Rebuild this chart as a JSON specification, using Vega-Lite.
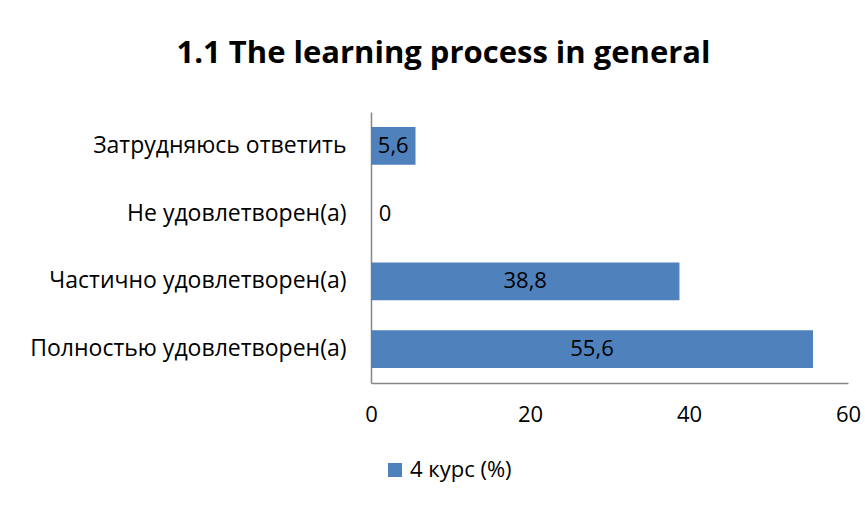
{
  "$schema": "https://vega.github.io/schema/vega-lite/v6.json",
  "width": 477,
  "height": 271,
  "autosize": {"type": "none"},
  "padding": {"left": 371, "top": 112, "right": 17, "bottom": 123},
  "background": "white",
  "config": {
    "view": {"stroke": null},
    "font": "Open Sans",
    "locale": {"number": {"decimal": ",", "thousands": " ", "grouping": [3], "currency": ["", ""]}}
  },
  "title": {
    "text": "1.1 The learning process in general",
    "font": "Open Sans",
    "fontSize": 31,
    "fontWeight": "bold",
    "color": "#000000",
    "anchor": "middle",
    "dx": -166,
    "offset": 42
  },
  "data": {
    "values": [
      {"category": "Затрудняюсь ответить", "value": 5.6},
      {"category": "Не удовлетворен(а)", "value": 0},
      {"category": "Частично удовлетворен(а)", "value": 38.8},
      {"category": "Полностью удовлетворен(а)", "value": 55.6}
    ]
  },
  "encoding": {
    "y": {
      "field": "category",
      "type": "nominal",
      "sort": null,
      "scale": {"paddingInner": 0.44, "paddingOuter": 0.22},
      "axis": {
        "title": null,
        "ticks": false,
        "domainColor": "#868686",
        "domainWidth": 1.5,
        "labelFontSize": 23,
        "labelColor": "#000000",
        "labelPadding": 25,
        "labelLimit": 400
      }
    }
  },
  "layer": [
    {
      "mark": {"type": "bar", "color": "#4F81BD"},
      "encoding": {
        "x": {
          "field": "value",
          "type": "quantitative",
          "scale": {"domain": [0, 60], "nice": false},
          "axis": {
            "title": null,
            "values": [0, 20, 40, 60],
            "grid": false,
            "ticks": false,
            "domainColor": "#868686",
            "domainWidth": 1.5,
            "labelFontSize": 22,
            "labelColor": "#000000",
            "labelPadding": 21,
            "labelFlush": false
          }
        },
        "color": {
          "datum": "4 курс (%)",
          "type": "nominal",
          "scale": {"range": ["#4F81BD"]},
          "legend": {
            "title": null,
            "orient": "none",
            "legendX": 13,
            "legendY": 347,
            "symbolType": "square",
            "symbolSize": 196,
            "symbolStrokeWidth": 0,
            "labelFontSize": 22,
            "labelColor": "#000000",
            "labelOffset": 4
          }
        }
      }
    },
    {
      "transform": [{"filter": "datum.value > 0"}],
      "mark": {"type": "text", "fontSize": 22, "color": "#000000", "align": "center", "baseline": "middle"},
      "encoding": {
        "x": {
          "field": "value",
          "type": "quantitative",
          "scale": {"domain": [0, 120], "nice": false},
          "axis": null
        },
        "text": {"field": "value", "type": "quantitative", "format": ".1~f"}
      }
    },
    {
      "transform": [{"filter": "datum.value == 0"}],
      "mark": {"type": "text", "fontSize": 22, "color": "#000000", "align": "center", "baseline": "middle", "dx": 14},
      "encoding": {
        "x": {
          "field": "value",
          "type": "quantitative",
          "scale": {"domain": [0, 60], "nice": false},
          "axis": null
        },
        "text": {"field": "value", "type": "quantitative", "format": ".1~f"}
      }
    }
  ],
  "resolve": {"scale": {"x": "independent"}}
}
